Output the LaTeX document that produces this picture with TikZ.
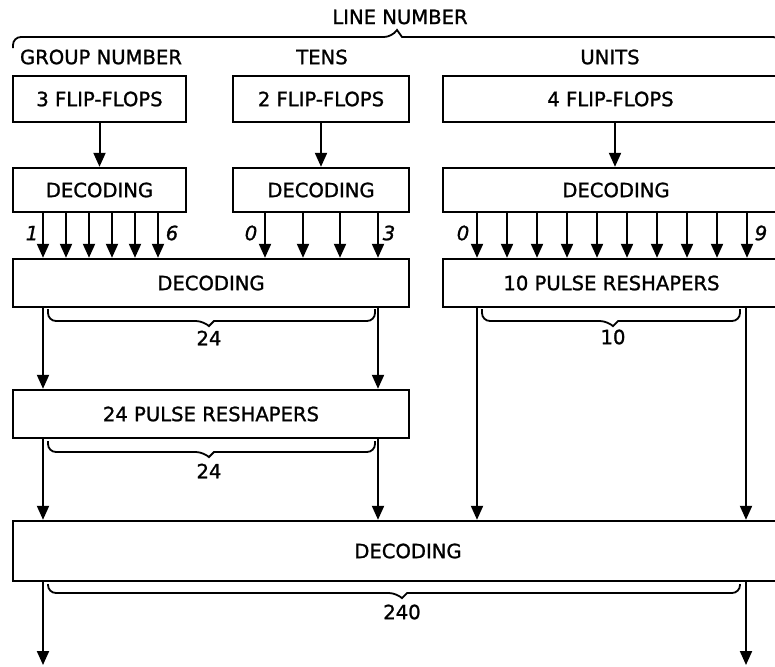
\documentclass[tikz,border=0pt]{standalone}
\usepackage{fontspec}
\setmainfont{DejaVu Sans}[BoldFont={DejaVu Sans},BoldFeatures={FakeBold=1.2},BoldItalicFont={DejaVu Sans Oblique},BoldItalicFeatures={FakeBold=1.2}]
\usetikzlibrary{arrows.meta}

\begin{document}
\begin{tikzpicture}[x=0.5pt,y=-0.5pt]
\tikzstyle{every node}+=[inner sep=0pt, font=\fontsize{9.8}{11}\selectfont\bfseries]
\tikzstyle{block}=[draw, line width=1.2pt, minimum height=23pt]
\tikzstyle{sig}=[line width=1pt, -{Triangle[length=7pt,width=6pt]}]
\tikzstyle{brc}=[line width=0.9pt]
\tikzstyle{idx}=[font=\fontsize{9.8}{11}\selectfont\bfseries\itshape]
\useasboundingbox (0,0) rectangle (775,666);
\clip (0,0) rectangle (775,666);
% headings
\node (line) at (400,17) {LINE NUMBER};
\node (group) at (101,57) {GROUP NUMBER};
\node (tens) at (322,57) {TENS};
\node (units) at (610,57) {UNITS};
\draw[brc] (13,48) [rounded corners=4pt] |- (392,37) [sharp corners] -- (397,30) -- (402,37) [rounded corners=4pt] -| (781,48);
% flip-flops
\node[block, minimum width=86.5pt] (ff1) at (99.5,99) {3 FLIP-FLOPS};
\node[block, minimum width=88pt] (ff2) at (321,99) {2 FLIP-FLOPS};
\node[block, minimum width=167.5pt] (ff3) at (610.5,99) {4 FLIP-FLOPS};
% first decoding
\node[block, minimum width=86.5pt, minimum height=22pt] (gdec) at (99.5,190) {DECODING};
\node[block, minimum width=88pt, minimum height=22pt] (tdec) at (321,190) {DECODING};
\node[block, minimum width=173pt, minimum height=22pt] (udec) at (616,190) {DECODING};
\draw[sig] (ff1) -- (gdec);
\draw[sig] (ff2) -- (tdec);
\draw[sig] (ff3.south -| 615,0) -- (udec.north -| 615,0);
% second row
\node[block, minimum width=198pt, minimum height=24pt] (bigdec) at (211,283) {DECODING};
\node[block, minimum width=168.5pt, minimum height=24pt] (upr) at (611.5,283) {10 PULSE RESHAPERS};
\foreach \x in {43,66,89,112,135,158}
  \draw[sig] (gdec.south -| \x,0) -- (bigdec.north -| \x,0);
\foreach \x in {265,303,340,378}
  \draw[sig] (tdec.south -| \x,0) -- (bigdec.north -| \x,0);
\foreach \x in {477,507,...,747}
  \draw[sig] (udec.south -| \x,0) -- (upr.north -| \x,0);
\node[idx] (g1) at (32,233) {1};
\node[idx] (g6) at (172,233) {6};
\node[idx] (t0) at (251,233) {0};
\node[idx] (t3) at (389,233) {3};
\node[idx] (u0) at (463,233) {0};
\node[idx] (u9) at (761,233) {9};
% 24 pulse reshapers
\node[block, minimum width=198pt, minimum height=24pt] (pr24) at (211,414) {24 PULSE RESHAPERS};
\draw[sig] (bigdec.south -| 43,0) -- (pr24.north -| 43,0);
\draw[sig] (bigdec.south -| 378,0) -- (pr24.north -| 378,0);
\draw[brc] (48,309) [rounded corners=4pt] |- (204,321) [sharp corners] -- (209,326) -- (214,321) [rounded corners=4pt] -| (375,309);
\node (n24a) at (209,338) {24};
\draw[brc] (482,309) [rounded corners=4pt] |- (608,321) [sharp corners] -- (613,326) -- (618,321) [rounded corners=4pt] -| (740,309);
\node (n10) at (613,337) {10};
% final decoding
\node[block, minimum width=395pt, minimum height=30pt] (findec) at (408,551) {DECODING};
\draw[sig] (pr24.south -| 43,0) -- (findec.north -| 43,0);
\draw[sig] (pr24.south -| 378,0) -- (findec.north -| 378,0);
\draw[sig] (upr.south -| 477,0) -- (findec.north -| 477,0);
\draw[sig] (upr.south -| 746,0) -- (findec.north -| 746,0);
\draw[brc] (48,441) [rounded corners=4pt] |- (204,452) [sharp corners] -- (209,457) -- (214,452) [rounded corners=4pt] -| (375,441);
\node (n24b) at (209,471) {24};
\draw[brc] (48,584) [rounded corners=4pt] |- (397,593) [sharp corners] -- (402,598) -- (407,593) [rounded corners=4pt] -| (740,584);
\node (n240) at (402,612) {240};
\coordinate (out1) at (43,665);
\coordinate (out2) at (746,665);
\draw[sig] (findec.south -| out1) -- (out1);
\draw[sig] (findec.south -| out2) -- (out2);
\end{tikzpicture}
\end{document}
